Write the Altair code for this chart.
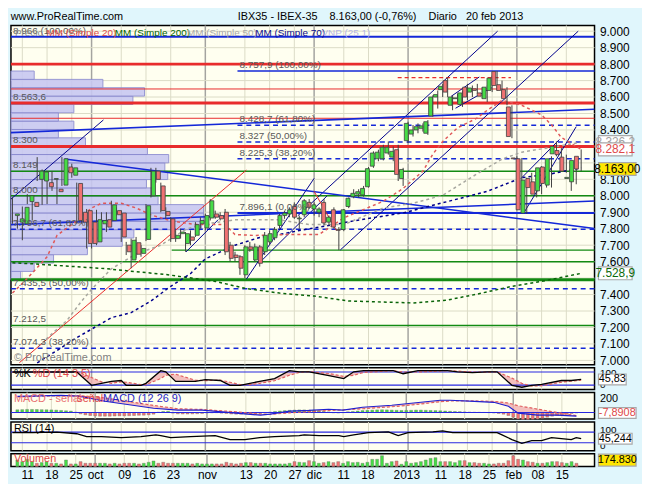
import json
import altair as alt
import pandas as pd

FONT = "Liberation Sans"
W = 590
H_MAIN, H_STO, H_MACD, H_RSI, H_VOL = 343, 22, 27, 29, 13
XDOM = [-0.3, 117.7]
MAIN_DOM = [6974, 9035]
STO_DOM = [0, 100]
MACD_DOM = [-98, 298]
RSI_DOM = [0, 108]
VOL_DOM = [0, 690000]

BG = "#E0F6FC"; PANEL = "#FFFFF0"; GRID = "#DCDCC6"; MONTH = "#A4A4A0"
RED = "#E82C2C"; BLUE = "#1428D8"; GREEN = "#138A13"; DBLUE = "#00008C"
UP = "#46DC46"; DOWN = "#F07272"; EDGE = "#404040"; REFBLUE = "#2828E0"

# ---------------- date axis ----------------
tick_idx = [2, 7, 12, 16, 22, 27, 32, 39, 47, 52, 57, 61, 67, 72, 80, 87, 92, 97, 102, 107, 112]
tick_labels = ["11", "18", "25", "oct", "09", "16", "23", "nov", "13", "20", "27", "dic",
               "11", "18", "2013", "11", "18", "25", "feb", "08", "15"]
month_idx = [16, 39, 61, 80, 102]

# price labels on the right (those hidden behind the value boxes are left out)
price_ticks = [7000, 7100, 7200, 7300, 7400, 7600, 7700, 7800, 7900, 8000, 8100,
               8400, 8500, 8600, 8700, 8800, 8900, 9000]

# ---------------- daily candles (IBEX-35, 7 sep 2012 - 20 feb 2013) ----------------
opens = [7880, 7840, 7830, 7965, 7960, 8100, 8090, 8080, 8100, 8040,
         8065, 8175, 8125, 8075, 7900, 7910, 7840, 7720, 7830, 7855,
         7850, 7910, 7895, 7700, 7610, 7715, 7650, 7735, 8000, 8150,
         8060, 7905, 7860, 7740, 7770, 7710, 7750, 7760, 7830, 7805,
         7865, 7890, 7880, 7900, 7700, 7640, 7630, 7520, 7690, 7610,
         7690, 7660, 7720, 7745, 7820, 7880, 7890, 7935, 7860, 7885,
         7960, 7920, 7900, 7960, 7840, 7915, 7795, 7795, 7935, 7995,
         8010, 8005, 8055, 8180, 8225, 8225, 8260, 8235, 8280, 8105,
         8335, 8375, 8400, 8410, 8380, 8485, 8600, 8645, 8700, 8550,
         8590, 8555, 8660, 8630, 8650, 8625, 8590, 8640, 8755, 8675,
         8645, 8540, 8230, 8225, 7895, 8105, 8085, 8030, 8175, 8065,
         8255, 8275, 8235, 8105, 8085, 8240]
highs = [7990, 7880, 7935, 8010, 7980, 8235, 8160, 8150, 8150, 8100,
         8235, 8195, 8195, 8080, 7920, 7920, 7870, 7915, 7900, 7900,
         7970, 7930, 7910, 7720, 7740, 7750, 7700, 7950, 8170, 8170,
         8080, 7930, 7870, 7790, 7800, 7780, 7790, 7840, 7870, 7890,
         7980, 7910, 7900, 7920, 7720, 7660, 7640, 7700, 7720, 7710,
         7700, 7780, 7790, 7810, 7890, 7910, 7930, 7960, 7880, 7980,
         7980, 7960, 7930, 7980, 7880, 7930, 7810, 7920, 7990, 8040,
         8040, 8060, 8175, 8270, 8280, 8310, 8330, 8300, 8310, 8170,
         8450, 8430, 8440, 8440, 8460, 8610, 8640, 8680, 8720, 8610,
         8620, 8640, 8680, 8670, 8680, 8660, 8670, 8730, 8758, 8700,
         8660, 8550, 8240, 8230, 8110, 8140, 8100, 8180, 8190, 8240,
         8330, 8290, 8250, 8160, 8230, 8282]
lows = [7830, 7800, 7730, 7950, 7850, 8090, 7945, 7950, 8030, 7950,
        8060, 8130, 8110, 7830, 7830, 7680, 7680, 7700, 7790, 7780,
        7840, 7880, 7720, 7640, 7560, 7620, 7630, 7725, 7990, 8080,
        7900, 7860, 7720, 7720, 7740, 7660, 7700, 7750, 7800, 7790,
        7850, 7860, 7850, 7640, 7600, 7600, 7520, 7500, 7660, 7600,
        7570, 7640, 7700, 7730, 7800, 7860, 7870, 7860, 7800, 7870,
        7920, 7880, 7870, 7820, 7820, 7800, 7670, 7785, 7925, 7985,
        7990, 7995, 8050, 8170, 8210, 8215, 8250, 8210, 8090, 8060,
        8320, 8360, 8380, 8390, 8370, 8480, 8530, 8600, 8600, 8520,
        8570, 8540, 8580, 8600, 8620, 8590, 8570, 8630, 8640, 8600,
        8550, 8350, 8220, 7900, 7890, 8030, 7990, 8010, 8050, 8050,
        8240, 8230, 8140, 8030, 8070, 8150]
closes = [7890, 7860, 7930, 8000, 7935, 8150, 8145, 8055, 8105, 8025,
          8225, 8140, 8170, 7850, 7840, 7710, 7710, 7855, 7850, 7810,
          7945, 7885, 7750, 7660, 7730, 7645, 7680, 7940, 8150, 8100,
          7910, 7880, 7740, 7760, 7780, 7770, 7730, 7825, 7850, 7880,
          7970, 7870, 7860, 7660, 7620, 7625, 7560, 7690, 7675, 7690,
          7590, 7760, 7770, 7795, 7880, 7895, 7915, 7870, 7865, 7970,
          7930, 7945, 7920, 7835, 7870, 7810, 7790, 7915, 7985, 8015,
          8025, 8045, 8165, 8260, 8265, 8295, 8295, 8270, 8130, 8160,
          8440, 8400, 8420, 8425, 8450, 8600, 8615, 8665, 8630, 8600,
          8595, 8625, 8600, 8655, 8640, 8605, 8660, 8715, 8670, 8640,
          8590, 8360, 8225, 7915, 8095, 8050, 8010, 8170, 8075, 8225,
          8300, 8250, 8150, 8112, 8215, 8163]
volumes = [353, 265, 389, 265, 177, 212, 265, 177, 177, 141,
           353, 141, 141, 265, 177, 177, 177, 177, 177, 141,
           177, 141, 177, 177, 177, 141, 177, 230, 300, 177,
           230, 177, 177, 177, 177, 177, 141, 177, 141, 141,
           141, 141, 141, 230, 177, 141, 177, 212, 212, 177,
           177, 177, 141, 141, 141, 141, 177, 265, 230, 212,
           318, 265, 177, 212, 265, 212, 265, 177, 265, 212,
           230, 177, 230, 389, 389, 583, 177, 265, 300, 124,
           265, 177, 212, 265, 353, 440, 477, 265, 265, 265,
           212, 318, 318, 212, 212, 177, 177, 141, 141, 177,
           177, 318, 583, 389, 353, 265, 230, 177, 177, 212,
           265, 265, 212, 177, 265, 174.83]

# ---------------- moving averages (read at sample sessions) ----------------
ma20_idx = [0, 3, 7, 9, 13, 16, 18, 22, 25, 28, 32, 37, 43, 45, 49, 56, 62, 67, 75, 79,
            83, 85, 87, 90, 94, 96, 99, 103, 107, 109, 111, 115]
ma20_val = [7409, 7498, 7629, 7759, 7848, 7926, 7955, 7955, 7926, 7884, 7848, 7825, 7825, 7765,
            7759, 7765, 7765, 7866, 7967, 8045, 8150, 8253, 8330, 8413, 8473, 8520, 8580, 8550,
            8491, 8431, 8354, 8282]
ma50_idx = [6, 7, 11, 14, 16, 20, 25, 30, 35, 38, 45, 54, 60, 67, 75, 81, 87, 93, 99, 103, 110, 115]
ma50_val = [7100, 7135, 7242, 7361, 7432, 7557, 7646, 7700, 7795, 7825, 7854, 7854, 7825, 7825,
            7926, 7955, 8003, 8116, 8223, 8265, 8300, 8326]
ma70_idx = [5, 9, 12, 16, 20, 24, 28, 32, 36, 39, 45, 50, 54, 58, 65, 69, 79, 89, 96, 103, 109, 115]
ma70_val = [6985, 7060, 7120, 7190, 7260, 7290, 7361, 7450, 7527, 7617, 7700, 7747, 7765, 7789,
            7825, 7848, 7896, 7973, 8027, 8110, 8134, 8170]
ma200_idx = [0, 4, 19, 25, 31, 41, 47, 54, 61, 68, 81, 88, 94, 101, 107, 115]
ma200_val = [7593, 7587, 7557, 7539, 7522, 7480, 7438, 7409, 7391, 7361, 7349, 7367, 7403, 7450,
             7480, 7529]

# ---------------- volume at price profile ----------------
prof_edges = [7490.0, 7540.7, 7591.4, 7642.2, 7692.9, 7743.6, 7794.3, 7845.0, 7895.8, 7946.5,
              7997.2, 8047.9, 8098.6, 8149.4, 8200.1, 8250.8, 8301.5, 8352.2, 8403.0, 8453.7,
              8504.4, 8555.1, 8605.8, 8656.6, 8707.3, 8758.0]
prof_vol = [10, 24, 44, 79, 115, 127, 197, 199, 199, 152, 147, 140, 162, 159, 163, 141, 77, 49,
            65, 49, 65, 126, 138, 95, 24]

# ---------------- horizontal levels & trend lines ----------------
level_p = [8966, 8800, 8757.9, 8649, 8563.6, 8471, 8428.7, 8327, 8300, 8225.3, 8149, 8000,
           7896.1, 7796.7, 7670, 7600, 7490, 7435.5, 7212.5, 7074.3]
level_from = [-0.3, -0.3, 45.5, -0.3, -0.3, -0.3, 45.5, 45.5, -0.3, 45.5, -0.3, -0.3, 45.5,
              -0.3, 32.2, -0.3, -0.3, -0.3, -0.3, -0.3]
level_kind = ["blue2", "red3", "blue15", "red1", "red3", "red1", "bluedash", "bluedash", "red3",
              "bluedash", "green", "green", "blue2", "bluedash", "green", "green", "green3",
              "bluedash", "green", "bluedash"]
label_text = ["8.966 (100,00%)", "8.563,6", "8.300", "8.149", "8.000", "7.796,7 (61,80%)",
              "7.435,5 (50,00%)", "7.212,5", "7.074,3 (38,20%)", "8.757,9 (100,00%)",
              "8.428,7 (61,80%)", "8.327 (50,00%)", "8.225,3 (38,20%)", "7.896,1 (0,00%)"]
label_x = [-0.3, -0.3, -0.3, -0.3, -0.3, -0.3, -0.3, -0.3, -0.3, 45.5, 45.5, 45.5, 45.5, 45.5]
label_p = [8966, 8563.6, 8300, 8149, 8000, 7796.7, 7435.5, 7212.5, 7074.3, 8757.9, 8428.7,
           8327, 8225.3, 7896.1]

seg_x1 = [-0.3, 1.4, 10.6, -0.3, -0.3, 66.3, 57.7, 88.7, 89.6, 103.4, 102.8, 35.1, 47.3, 49.8, 61.0, 77.9]
seg_p1 = [7980, 6986, 8224, 7825, 8384, 7671, 7879, 8604, 8532, 7896, 8104, 7659, 7494, 7589, 8027, 8718]
seg_x2 = [18.4, 47.3, 117.7, 117.7, 117.7, 114.4, 98.1, 94.4, 96.9, 114.0, 110.6, 41.6, 61.0, 63.6, 65.5, 100.8]
seg_p2 = [8461, 8156, 7801, 7968, 8526, 9000, 9000, 8722, 8657, 8420, 8342, 7855, 8106, 7999, 7789, 8718]
seg_kind = ["thin", "red", "blue", "blue", "blue", "thin", "thin", "thin", "thin", "thin", "thin",
            "thin", "thin", "thin", "red", "reddash"]

# ---------------- indicators ----------------
stoch_idx = [0, 13, 16, 18, 20, 22, 23, 26, 27, 30, 31, 33, 37, 39, 42, 44, 46, 48, 50, 53,
             56, 58, 60, 64, 67, 69, 71, 77, 79, 82, 88, 90, 93, 96, 98, 101, 103, 105, 107, 111,
             113, 115]
stoch_k = [80, 80, 19, 28, 37, 41, 19, 19, 28, 86, 81, 37, 37, 45, 41, 19, 19, 28, 37, 50,
           86, 81, 81, 63, 50, 81, 86, 86, 72, 86, 86, 81, 77, 81, 81, 19, 10, 19, 23, 41, 41, 46]
stoch_d = [78, 82, 55, 35, 28, 35, 33, 22, 22, 50, 65, 70, 42, 40, 43, 33, 22, 22, 28, 40,
           65, 78, 82, 73, 60, 65, 78, 86, 80, 80, 86, 84, 80, 79, 81, 52, 28, 15, 17, 33, 38, 43]

macd_idx = [0, 9, 13, 18, 28, 33, 38, 45, 50, 52, 56, 60, 64, 67, 71, 77, 81, 87, 89, 94,
            98, 101, 103, 107, 111, 115]
macd_val = [240, 255, 240, 166, 63, 34, 34, -10, -40, -25, 19, 30, 48, 34, 78, 107, 137, 181,
            181, 166, 151, 93, -10, -40, -40, -54]
signal_val = [230, 250, 250, 215, 105, 55, 45, 10, -22, -28, -5, 10, 30, 38, 55, 85, 110, 160,
              170, 172, 165, 140, 100, 50, 0, -46]
macd_hist = [40, 42, 45, 45, 44, 42, 40, 38, 35, 30, 25, 20, 5,
             -20, -35, -45, -50, -55, -55, -55, -52, -50, -50, -48, -45, -42, -40, -35, -25,
             5, 15, 18, -10, -20, -22, -22, -20, -18, -15, -8, -5, -3, -10, -15,
             -22, -25, -25, -22, -20, -18, -12, -5, 5,
             15, 22, 28, 32, 35, 38, 38, 35, 32, 25, 15, 8, -5, -8, -3,
             10, 15, 22, 28, 32, 35, 38, 40, 38, 35, 32, 30, 30, 32, 35, 35, 32, 30, 28, 25, 22,
             18, 15, 12, 8, 5, 3, 2, 0, -3,
             -8, -15, -25, -45, -70, -95, -105, -105, -100, -95, -85, -70, -55, -45, -35, -25,
             -15, -8]

rsi_idx = [0, 4, 9, 13, 15, 18, 22, 26, 29, 30, 32, 36, 41, 44, 47, 50, 53, 58, 59, 62,
           66, 67, 69, 72, 76, 78, 80, 85, 87, 89, 94, 98, 99, 101, 103, 105, 107, 109, 111, 113,
           114, 115]
rsi_val = [68, 68, 70, 64, 53, 53, 49, 53, 60, 57, 49, 53, 57, 42, 42, 49, 53, 57, 60, 57,
           57, 53, 60, 68, 71, 57, 68, 71, 75, 68, 68, 68, 60, 42, 28, 38, 38, 49, 46, 42, 49, 45.2]

legend_text = ["Precio", "MM (Simple 20)", "MM (Simple 200)", "MM (Simple 50)", "MM (Simple 70)", "VNP (25 1)"]
legend_color = ["#8C8C8C", "#E04848", "#006400", "#A8A8A8", "#0A0A8C", "#B4B4E6"]
legend_x = [4, 36, 105, 178, 247, 314]

NB = "\u00a0"
HEADER = ("www.ProRealTime.com" + NB * 38 + "IBX35 - IBEX-35" + NB * 4 + "8.163,00 (-0,76%)"
          + NB * 4 + "Diario" + NB * 3 + "20 feb 2013")


# ---------------- helpers ----------------
def right_axis(values, flush=False, expr=None, size=12):
    kw = dict(orient="right", values=values, grid=False, domain=False,
              ticks=False, labelFont=FONT, labelFontSize=size, labelColor="black", labelPadding=5,
              labelFlush=flush, title=None)
    if expr:
        kw["labelExpr"] = expr
    return alt.Axis(**kw)


def xq(field="idx", axis=None):
    return alt.X(f"{field}:Q", scale=alt.Scale(domain=XDOM, nice=False, zero=False), axis=axis, title=None)


def yq(field, dom, axis):
    return alt.Y(f"{field}:Q", scale=alt.Scale(domain=dom, nice=False, zero=False), axis=axis, title=None)


def vgrid(xaxis=None):
    g = pd.DataFrame({"idx": tick_idx})
    g["major"] = g["idx"].isin(month_idx)
    week = alt.Chart(g[~g["major"]]).mark_rule(color=GRID, strokeWidth=1).encode(x=xq(axis=xaxis))
    month = alt.Chart(g[g["major"]]).mark_rule(color=MONTH, strokeWidth=1.5).encode(x=xq(axis=xaxis))
    return [week, month]


def box(value, text, tcolor, fill, w, dom, yaxis, h=13, fs=12):
    d = pd.DataFrame({"v": [value], "t": [text]})
    hh = float(h) / w
    path = f"M-1,-{hh:.3f}L1,-{hh:.3f}L1,{hh:.3f}L-1,{hh:.3f}Z"
    cx = W + 4 + w / 2
    shp = alt.Chart(d).mark_point(shape=path, size=w * w, filled=True, fill=fill, stroke="#A8A8A8",
                                  strokeWidth=1.2, opacity=1, fillOpacity=1).encode(
        x=alt.value(cx), y=yq("v", dom, yaxis))
    lab = alt.Chart(d).mark_text(font=FONT, fontSize=fs, color=tcolor, align="center",
                                 baseline="middle").encode(x=alt.value(cx), y=yq("v", dom, yaxis), text="t:N")
    return [shp, lab]


def panel_text(items, y=6, size=11):
    out = []
    for txt, col, x in items:
        d = pd.DataFrame({"t": [txt]})
        out.append(alt.Chart(d).mark_text(font=FONT, fontSize=size, color=col, align="left",
                                          baseline="middle").encode(x=alt.value(x), y=alt.value(y), text="t:N"))
    return out


# ---------------- data frames ----------------
cdf = pd.DataFrame({"idx": list(range(len(opens))), "open": opens, "high": highs, "low": lows,
                    "close": closes, "vol": [v * 1000 for v in volumes]})
cdf["dir"] = ["up" if c >= o else "down" for o, c in zip(opens, closes)]
cdf["zero"] = 0
dir_color = alt.Color("dir:N", scale=alt.Scale(domain=["up", "down"], range=[UP, DOWN]), legend=None)

# ---------------- main panel ----------------
YA = right_axis(price_ticks, expr="replace(format(datum.value, ',d'), ',', '.')")
main_layers = vgrid()

hgrid = pd.DataFrame({"p": list(range(7000, 9001, 100))})
main_layers.append(alt.Chart(hgrid).mark_rule(color=GRID, strokeWidth=1).encode(y=yq("p", MAIN_DOM, YA)))

prof = pd.DataFrame({"lo": prof_edges[:-1], "hi": prof_edges[1:], "v": prof_vol})
prof["z"] = 0
main_layers.append(
    alt.Chart(prof).mark_rect(fill="#C8C8F2", stroke="#8C8CD0", strokeWidth=1, opacity=0.9).encode(
        x=alt.X("z:Q", scale=alt.Scale(domain=[0, 603], nice=False, zero=False), axis=None, title=None),
        x2="v:Q", y=yq("lo", MAIN_DOM, YA), y2="hi:Q"))

lev = pd.DataFrame({"p": level_p, "x1": level_from, "kind": level_kind})
lev["x2"] = XDOM[1]
lev_style = {
    "blue2": dict(color=BLUE, strokeWidth=2),
    "blue15": dict(color=BLUE, strokeWidth=1.5),
    "bluedash": dict(color=BLUE, strokeWidth=1.5, strokeDash=[5, 4]),
    "red3": dict(color=RED, strokeWidth=3),
    "red1": dict(color=RED, strokeWidth=1),
    "green": dict(color=GREEN, strokeWidth=1.5),
    "green3": dict(color=GREEN, strokeWidth=3),
}
for kind, st in lev_style.items():
    d = lev[lev["kind"] == kind]
    main_layers.append(alt.Chart(d).mark_rule(**st).encode(x=xq("x1"), x2="x2:Q", y=yq("p", MAIN_DOM, YA)))

seg = pd.DataFrame({"x1": seg_x1, "p1": seg_p1, "x2": seg_x2, "p2": seg_p2, "kind": seg_kind})
seg_style = {
    "thin": dict(color=DBLUE, strokeWidth=1),
    "blue": dict(color=BLUE, strokeWidth=1.6),
    "red": dict(color=RED, strokeWidth=1),
    "reddash": dict(color=RED, strokeWidth=1.2, strokeDash=[4, 3]),
}
for kind, st in seg_style.items():
    d = seg[seg["kind"] == kind]
    main_layers.append(alt.Chart(d).mark_rule(clip=True, **st).encode(
        x=xq("x1"), x2="x2:Q", y=yq("p1", MAIN_DOM, YA), y2="p2:Q"))

for idxs, vals, col in [(ma200_idx, ma200_val, "#0A640A"), (ma70_idx, ma70_val, DBLUE),
                        (ma50_idx, ma50_val, "#A8A8A0"), (ma20_idx, ma20_val, "#E05858")]:
    d = pd.DataFrame({"idx": idxs, "v": vals})
    main_layers.append(alt.Chart(d).mark_line(color=col, strokeWidth=1.5, strokeDash=[3, 3], clip=True).encode(
        x=xq(), y=yq("v", MAIN_DOM, YA)))

main_layers.append(alt.Chart(cdf).mark_rule(color=EDGE, strokeWidth=1).encode(
    x=xq(), y=yq("low", MAIN_DOM, YA), y2="high:Q"))
main_layers.append(alt.Chart(cdf).mark_bar(size=4, stroke=EDGE, strokeWidth=0.8).encode(
    x=xq(), y=yq("open", MAIN_DOM, YA), y2="close:Q", color=dir_color))

lab = pd.DataFrame({"t": label_text, "x": label_x, "p": label_p})
main_layers.append(alt.Chart(lab).mark_text(font=FONT, fontSize=10, color="#585858", align="left",
                                            baseline="bottom", dx=2, dy=-1).encode(
    x=xq("x"), y=yq("p", MAIN_DOM, YA), text="t:N"))

main_layers += panel_text(list(zip(legend_text, legend_color, legend_x)), y=8, size=10)
main_layers += panel_text([("\u00a9 ProRealTime.com", "#808080", 3)], y=H_MAIN - 7, size=11)

for v, t, c, f, w in [(8326.2, "8.326,2", "#A0A0A0", "white", 34),
                      (8282.1, "8.282,1", "#E04848", "white", 34),
                      (8163.0, "8.163,00", "#000000", "#FFE600", 38),
                      (7528.9, "7.528,9", "#0A6A0A", "white", 34)]:
    main_layers += box(v, t, c, f, w, MAIN_DOM, YA)

main = alt.layer(*main_layers).resolve_scale(x="independent").properties(width=W, height=H_MAIN)

# ---------------- stochastic ----------------
SA = right_axis([0, 100], flush=6, size=10)
sdf = pd.DataFrame({"idx": stoch_idx, "k": stoch_k, "d": stoch_d})
sto_layers = vgrid()
sto_layers.append(alt.Chart(sdf).mark_area(color="#F0B0B0", opacity=0.8).encode(
    x=xq(), y=yq("k", STO_DOM, SA), y2="d:Q"))
sto_layers.append(alt.Chart(pd.DataFrame({"v": [20, 80]})).mark_rule(color=REFBLUE, strokeWidth=1.2).encode(
    y=yq("v", STO_DOM, SA)))
sto_layers.append(alt.Chart(sdf).mark_line(color="#E06060", strokeWidth=1.2, strokeDash=[3, 2]).encode(
    x=xq(), y=yq("d", STO_DOM, SA)))
sto_layers.append(alt.Chart(sdf).mark_line(color="black", strokeWidth=1.3).encode(
    x=xq(), y=yq("k", STO_DOM, SA)))
sto_layers += panel_text([("%K", "black", 3), ("%D (14 3 5)", "#E04848", 22)], y=6)
sto_layers += box(45.83, "45,83", "black", "white", 28, STO_DOM, SA, h=11, fs=11)
sto = alt.layer(*sto_layers).properties(width=W, height=H_STO)

# ---------------- MACD ----------------
MA = right_axis([200], size=11)
mdf = pd.DataFrame({"idx": macd_idx, "m": macd_val, "s": signal_val})
hdf = pd.DataFrame({"idx": list(range(len(macd_hist))), "h": macd_hist})
hdf["zero"] = 0
hdf["dir"] = ["up" if h >= 0 else "down" for h in macd_hist]
macd_layers = vgrid()
macd_layers.append(alt.Chart(mdf).mark_area(color="#F0B0B0", opacity=0.8).encode(
    x=xq(), y=yq("m", MACD_DOM, MA), y2="s:Q"))
macd_layers.append(alt.Chart(hdf).mark_bar(size=3, stroke="#707070", strokeWidth=0.4).encode(
    x=xq(), y=yq("h", MACD_DOM, MA), y2="zero:Q", color=dir_color))
macd_layers.append(alt.Chart(pd.DataFrame({"v": [0]})).mark_rule(color=REFBLUE, strokeWidth=1.2).encode(
    y=yq("v", MACD_DOM, MA)))
macd_layers.append(alt.Chart(mdf).mark_line(color="#E06060", strokeWidth=1.2, strokeDash=[3, 2]).encode(
    x=xq(), y=yq("s", MACD_DOM, MA)))
macd_layers.append(alt.Chart(mdf).mark_line(color="#2020D0", strokeWidth=1.2).encode(
    x=xq(), y=yq("m", MACD_DOM, MA)))
macd_layers += panel_text([("MACD - se\u00f1al", "#E87070", 3), ("se\u00f1al", "#E04848", 67),
                           ("MACD (12 26 9)", "#2828C8", 93)], y=7)
macd_layers += box(-7.8908, "-7,8908", "#E04848", "white", 38, MACD_DOM, MA, h=11, fs=11)
macd = alt.layer(*macd_layers).properties(width=W, height=H_MACD)

# ---------------- RSI ----------------
RA = right_axis([0, 100], flush=8, size=10)
rdf = pd.DataFrame({"idx": rsi_idx, "r": rsi_val})
rsi_layers = vgrid()
rsi_layers.append(alt.Chart(pd.DataFrame({"v": [30, 70]})).mark_rule(color=REFBLUE, strokeWidth=1.2).encode(
    y=yq("v", RSI_DOM, RA)))
rsi_layers.append(alt.Chart(rdf).mark_line(color="black", strokeWidth=1.3).encode(
    x=xq(), y=yq("r", RSI_DOM, RA)))
rsi_layers += panel_text([("RSI (14)", "black", 3)], y=7)
rsi_layers += box(45.244, "45,244", "black", "white", 34, RSI_DOM, RA, h=11, fs=11)
rsi = alt.layer(*rsi_layers).properties(width=W, height=H_RSI)

# ---------------- volume ----------------
x_expr = f"{json.dumps(tick_labels)}[indexof({json.dumps(tick_idx)}, datum.value)]"
XA = alt.Axis(values=tick_idx, labelExpr=x_expr, grid=False, domain=False, ticks=False,
              labelFont=FONT, labelFontSize=12, labelColor="black", labelPadding=3,
              labelFlush=False, labelOverlap=False, title=None)
VA = alt.Axis(values=[], grid=False, domain=False, ticks=False, labels=False, title=None)
vol_layers = vgrid(XA)
vol_layers.append(alt.Chart(cdf).mark_bar(size=3, stroke="#707070", strokeWidth=0.4).encode(
    x=xq(axis=XA), y=yq("vol", VOL_DOM, VA), y2="zero:Q", color=dir_color))
vol_layers += panel_text([("Volumen", "#E04848", 3)], y=5)
vol_layers += box(345000, "174.830", "black", "#FFE600", 38, VOL_DOM, VA, h=12, fs=11)
vol = alt.layer(*vol_layers).properties(width=W, height=H_VOL)

chart = alt.vconcat(main, sto, macd, rsi, vol, spacing=3, bounds="flush").properties(
    title=alt.TitleParams(text=HEADER, anchor="start", font=FONT, fontSize=11, fontWeight="normal",
                          color="black", offset=2, dx=2),
    background=BG,
    padding={"left": 0, "top": 0, "right": 0, "bottom": 0},
).configure_view(stroke="black", strokeWidth=1.5, fill=PANEL)

chart.save("out.html", embed_options={"renderer": "svg", "actions": False})
